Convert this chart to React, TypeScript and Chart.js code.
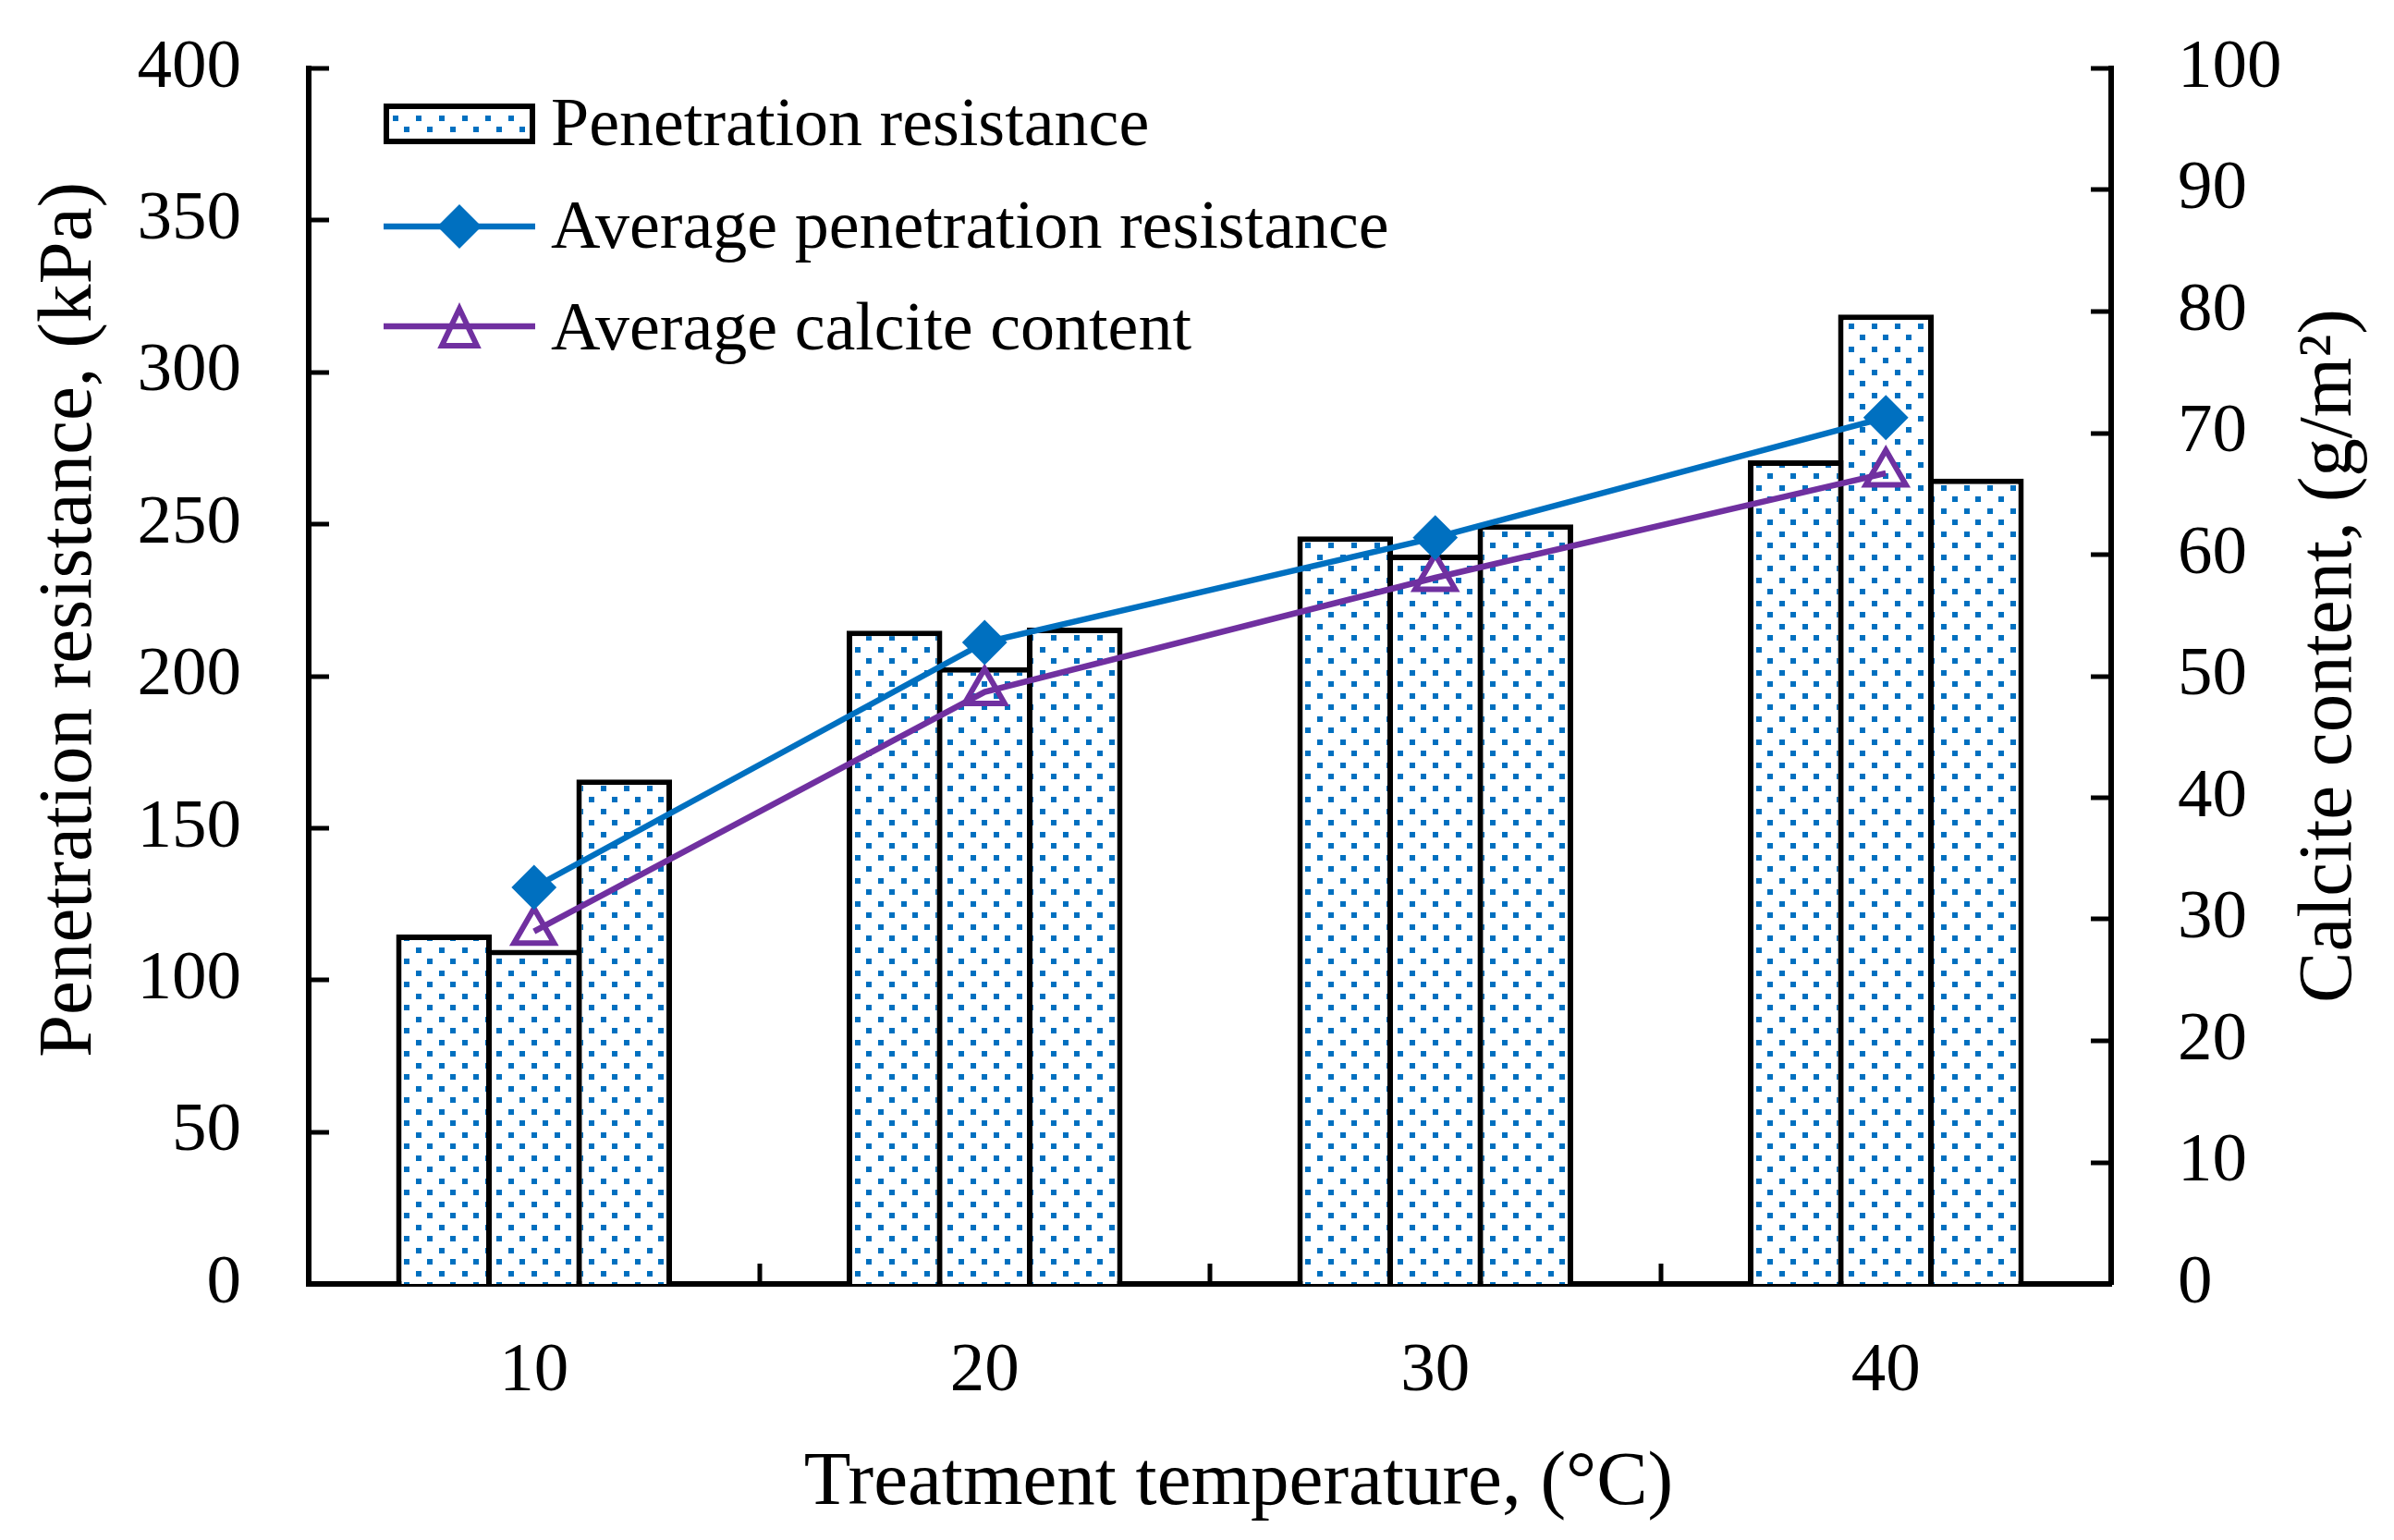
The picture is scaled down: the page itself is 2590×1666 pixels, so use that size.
import React, { useEffect, useRef } from 'react';
import { Chart, registerables } from 'chart.js';

Chart.register(...registerables);

// ---- Data ----
const categories = ['10', '20', '30', '40'];
const resistanceSample1 = [115, 215, 246, 271];
const resistanceSample2 = [110, 203, 240, 319];
const resistanceSample3 = [166, 216, 250, 265];
const avgResistance = [130.5, 211.1, 245.6, 285.1];
const avgCalcite = [29.0, 48.7, 58.1, 66.7];

const legendLabels = [
  'Penetration resistance',
  'Average penetration resistance',
  'Average calcite content',
];
const xTitle = 'Treatment temperature, (°C)';
const yTitle = 'Penetration resistance, (kPa)';
const y1Title = 'Calcite content, (g/m²)';

const leftMin = 0;
const leftMax = 400;
const leftStep = 50;
const rightMin = 0;
const rightMax = 100;
const rightStep = 10;

// ---- Styles ----
const FONT = "'Liberation Serif', 'Times New Roman', serif";
const BLUE = '#0070C0';
const PURPLE = '#7030A0';
const LINE_W = 6.5;
const W = 2590;
const H = 1666;

function makePattern(): CanvasPattern | string {
  const c = document.createElement('canvas');
  c.width = 25;
  c.height = 25;
  const g = c.getContext('2d');
  if (!g) return '#fff';
  g.fillStyle = '#ffffff';
  g.fillRect(0, 0, 25, 25);
  g.fillStyle = BLUE;
  g.fillRect(0, 0, 6, 6);
  g.fillRect(12, 12, 6, 6);
  const p = g.createPattern(c, 'repeat');
  return p || '#fff';
}

const decorPlugin = {
  id: 'decor',
  afterDraw(chart: any, _args: any, opts: any) {
    const { ctx, chartArea, scales } = chart;
    const pattern = opts.pattern;
    const tickLen = 22;
    ctx.save();
    ctx.strokeStyle = '#000';
    ctx.lineWidth = 5;
    ctx.lineCap = 'butt';
    // left axis inward ticks
    scales.y.ticks.forEach((t: any) => {
      if (t.value === leftMin) return;
      const py = Math.round(scales.y.getPixelForValue(t.value));
      ctx.beginPath();
      ctx.moveTo(chartArea.left, py);
      ctx.lineTo(chartArea.left + tickLen, py);
      ctx.stroke();
    });
    // right axis inward ticks
    scales.y1.ticks.forEach((t: any) => {
      if (t.value === rightMin) return;
      const py = Math.round(scales.y1.getPixelForValue(t.value));
      ctx.beginPath();
      ctx.moveTo(chartArea.right, py);
      ctx.lineTo(chartArea.right - tickLen, py);
      ctx.stroke();
    });
    // x axis ticks between categories
    const n = categories.length;
    for (let i = 0; i < n - 1; i++) {
      const a = scales.x.getPixelForValue(i);
      const b = scales.x.getPixelForValue(i + 1);
      const px = Math.round((a + b) / 2);
      ctx.beginPath();
      ctx.moveTo(px, chartArea.bottom);
      ctx.lineTo(px, chartArea.bottom - tickLen);
      ctx.stroke();
    }

    // axis titles
    ctx.fillStyle = '#000';
    ctx.font = `83px ${FONT}`;
    ctx.textAlign = 'center';
    ctx.textBaseline = 'alphabetic';
    const cx = (chartArea.left + chartArea.right) / 2;
    const cy = (chartArea.top + chartArea.bottom) / 2;
    ctx.fillText(xTitle, cx + 31, chartArea.bottom + 238);

    ctx.save();
    ctx.translate(chartArea.left - 236, cy - 61);
    ctx.rotate(-Math.PI / 2);
    ctx.fillText(yTitle, 0, 0);
    ctx.restore();

    ctx.save();
    ctx.translate(chartArea.right + 259, cy - 22);
    ctx.rotate(-Math.PI / 2);
    ctx.fillText(y1Title, 0, 0);
    ctx.restore();

    // legend
    const lx = chartArea.left + 81;
    const lw = 164;
    const ly = chartArea.top;
    ctx.font = `74px ${FONT}`;
    ctx.textAlign = 'left';
    ctx.textBaseline = 'alphabetic';
    const textX = lx + lw + 17;

    // row 1: patterned box
    ctx.fillStyle = pattern;
    ctx.fillRect(lx + 3, ly + 41, lw - 6, 38);
    ctx.lineWidth = 6;
    ctx.strokeStyle = '#000';
    ctx.strokeRect(lx + 3, ly + 41, lw - 6, 38);
    ctx.fillStyle = '#000';
    ctx.fillText(legendLabels[0], textX, ly + 83);

    // row 2: blue line + diamond
    const r2 = ly + 171;
    ctx.strokeStyle = BLUE;
    ctx.lineWidth = LINE_W;
    ctx.beginPath();
    ctx.moveTo(lx, r2);
    ctx.lineTo(lx + lw, r2);
    ctx.stroke();
    const mx = lx + lw / 2;
    ctx.fillStyle = BLUE;
    ctx.beginPath();
    ctx.moveTo(mx, r2 - 24);
    ctx.lineTo(mx + 24, r2);
    ctx.lineTo(mx, r2 + 24);
    ctx.lineTo(mx - 24, r2);
    ctx.closePath();
    ctx.fill();
    ctx.fillStyle = '#000';
    ctx.fillText(legendLabels[1], textX, ly + 194);

    // row 3: purple line + triangle
    const r3 = ly + 279;
    ctx.strokeStyle = PURPLE;
    ctx.lineWidth = LINE_W;
    ctx.beginPath();
    ctx.moveTo(lx, r3);
    ctx.lineTo(lx + lw, r3);
    ctx.stroke();
    ctx.lineWidth = 6;
    ctx.lineJoin = 'miter';
    ctx.beginPath();
    ctx.moveTo(mx, r3 - 19);
    ctx.lineTo(mx + 19, r3 + 21);
    ctx.lineTo(mx - 19, r3 + 21);
    ctx.closePath();
    ctx.stroke();
    ctx.fillStyle = '#000';
    ctx.fillText(legendLabels[2], textX, ly + 304);

    ctx.restore();
  },
};

export default function App() {
  const ref = useRef<HTMLCanvasElement | null>(null);

  useEffect(() => {
    if (!ref.current) return;
    const pattern = makePattern();
    const barCommon = {
      type: 'bar' as const,
      backgroundColor: pattern,
      borderColor: '#000',
      borderWidth: 6,
      barPercentage: 1.0616,
      categoryPercentage: 0.6,
      yAxisID: 'y',
      order: 3,
    };
    const tickFont = { family: FONT, size: 75 };
    const noPad = (s: any) => {
      s.paddingTop = 0;
      s.paddingBottom = 0;
    };
    const chart = new Chart(ref.current, {
      type: 'bar',
      data: {
        labels: categories,
        datasets: [
          { ...barCommon, label: legendLabels[0], data: resistanceSample1 },
          { ...barCommon, label: legendLabels[0] + ' 2', data: resistanceSample2 },
          { ...barCommon, label: legendLabels[0] + ' 3', data: resistanceSample3 },
          {
            type: 'line',
            label: legendLabels[1],
            data: avgResistance,
            yAxisID: 'y',
            order: 1,
            borderColor: BLUE,
            borderWidth: LINE_W,
            tension: 0,
            fill: false,
            pointStyle: 'rectRot',
            pointRadius: 23,
            pointBackgroundColor: BLUE,
            pointBorderColor: BLUE,
            pointBorderWidth: 2,
          },
          {
            type: 'line',
            label: legendLabels[2],
            data: avgCalcite,
            yAxisID: 'y1',
            order: 2,
            borderColor: PURPLE,
            borderWidth: LINE_W,
            tension: 0,
            fill: false,
            pointStyle: 'triangle',
            pointRadius: 25,
            pointBackgroundColor: 'rgba(0,0,0,0)',
            pointBorderColor: PURPLE,
            pointBorderWidth: 6,
          },
        ] as any,
      },
      options: {
        responsive: false,
        devicePixelRatio: 1,
        animation: false,
        layout: { padding: { top: 74, left: 0, right: 0, bottom: 0 } },
        plugins: {
          legend: { display: false },
          tooltip: { enabled: false },
          title: { display: false },
          decor: { pattern },
        } as any,
        scales: {
          x: {
            type: 'category',
            offset: true,
            z: 1,
            grid: { display: false },
            border: { display: true, color: '#000', width: 6 },
            ticks: { color: '#000', font: tickFont, padding: 42, maxRotation: 0, autoSkip: false },
            afterFit: (s: any) => {
              s.height = 277;
              s.paddingLeft = 0;
              s.paddingRight = 0;
            },
          },
          y: {
            position: 'left',
            min: leftMin,
            max: leftMax,
            grid: { display: false },
            border: { display: true, color: '#000', width: 6 },
            ticks: { stepSize: leftStep, color: '#000', font: tickFont, padding: 65 },
            afterFit: (s: any) => {
              s.width = 334;
              noPad(s);
            },
          },
          y1: {
            position: 'right',
            min: rightMin,
            max: rightMax,
            grid: { display: false },
            border: { display: true, color: '#000', width: 6 },
            ticks: { stepSize: rightStep, color: '#000', font: tickFont, padding: 64 },
            afterFit: (s: any) => {
              s.width = 306;
              noPad(s);
            },
          },
        } as any,
      },
      plugins: [decorPlugin],
    });
    return () => chart.destroy();
  }, []);

  return (
    <div style={{ position: 'fixed', left: 0, top: 0, width: W, height: H, background: '#fff' }}>
      <canvas ref={ref} width={W} height={H} style={{ width: W, height: H, display: 'block' }} />
    </div>
  );
}
